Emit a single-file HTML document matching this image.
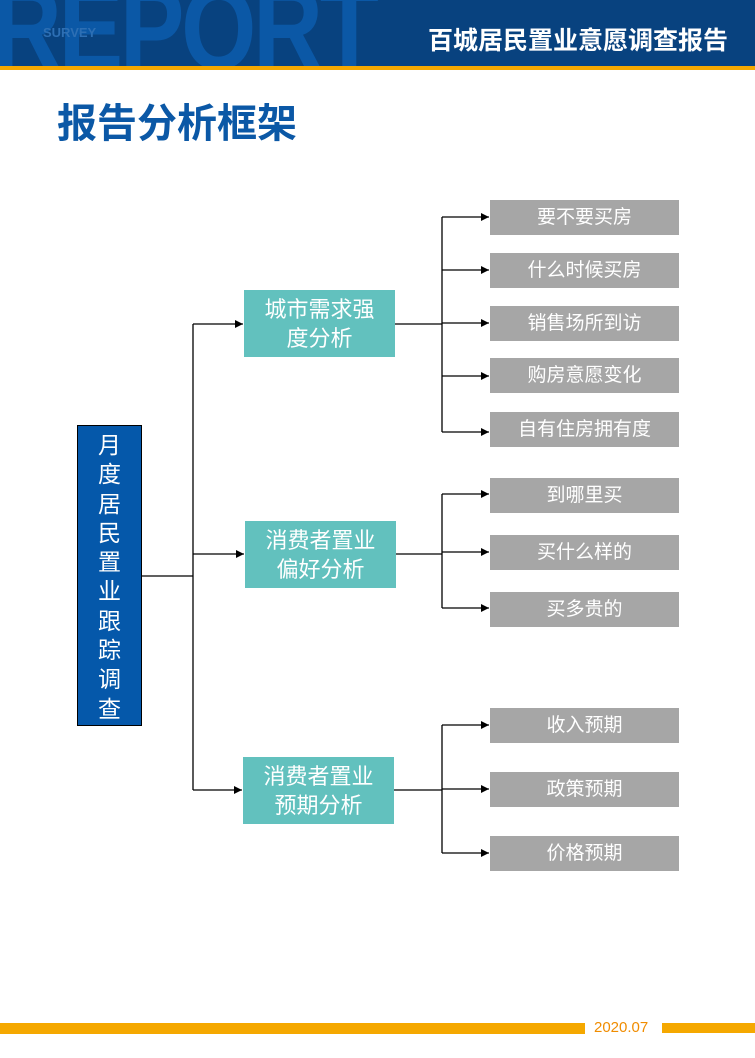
<!DOCTYPE html>
<html><head><meta charset="utf-8"><style>
body{margin:0;width:755px;height:1058px;position:relative;background:#fff;overflow:hidden;font-family:"Liberation Sans","Noto Sans CJK SC",sans-serif}
.a{position:absolute}
.g{position:absolute;left:490px;width:189px;height:35px;background:#a6a6a6;color:#fff;font-size:19px;line-height:35px;text-align:center}
.t{position:absolute;width:151px;height:67px;background:#62c1be;color:#fff;font-size:22px;line-height:29px;text-align:center;display:flex;align-items:center;justify-content:center}
</style></head><body>
<div class="a" style="left:0;top:0;width:755px;height:66px;background:#08427f;overflow:hidden">
<div class="a" style="left:-8px;top:-30px;font-size:118px;font-weight:bold;color:#0b58a6;letter-spacing:-4px;line-height:118px;transform:scaleX(0.82);transform-origin:0 0">REPORT</div>
<div class="a" style="left:43px;top:25px;font-size:13px;font-weight:bold;color:#2d6fb4">SURVEY</div>
<div class="a" style="left:428px;top:21px;font-size:25px;font-weight:bold;color:#fff;white-space:nowrap">百城居民置业意愿调查报告</div>
</div>
<div class="a" style="left:0;top:66px;width:755px;height:4px;background:#f5a800"></div>
<div class="a" style="left:57px;top:91px;font-size:40px;font-weight:bold;color:#0b58a6;white-space:nowrap">报告分析框架</div>

<div class="a" style="left:77px;top:425px;width:65px;height:301px;background:#0558aa;border:1px solid #000;color:#fff;font-size:23px;line-height:29.3px;text-align:center;padding-top:5px;box-sizing:border-box">月<br>度<br>居<br>民<br>置<br>业<br>跟<br>踪<br>调<br>查</div>

<div class="t" style="left:244px;top:290px">城市需求强<br>度分析</div>
<div class="t" style="left:245px;top:521px">消费者置业<br>偏好分析</div>
<div class="t" style="left:243px;top:757px">消费者置业<br>预期分析</div>

<div class="g" style="top:200px">要不要买房</div>
<div class="g" style="top:253px">什么时候买房</div>
<div class="g" style="top:306px">销售场所到访</div>
<div class="g" style="top:358px">购房意愿变化</div>
<div class="g" style="top:412px">自有住房拥有度</div>
<div class="g" style="top:478px">到哪里买</div>
<div class="g" style="top:535px">买什么样的</div>
<div class="g" style="top:592px">买多贵的</div>
<div class="g" style="top:708px">收入预期</div>
<div class="g" style="top:772px">政策预期</div>
<div class="g" style="top:836px">价格预期</div>

<svg class="a" style="left:0;top:0" width="755" height="1058">
<defs><marker id="m" markerWidth="8" markerHeight="8" refX="8" refY="4" orient="auto" markerUnits="userSpaceOnUse"><path d="M0,0L8,4L0,8z" fill="#000"/></marker></defs>
<g stroke="#000" stroke-width="1.3" fill="none">
<path d="M142,576H193M193,324V790"/>
<path d="M193,324H243" marker-end="url(#m)"/>
<path d="M193,554H244" marker-end="url(#m)"/>
<path d="M193,790H242" marker-end="url(#m)"/>
<path d="M395,324H442M442,217V432"/>
<path d="M442,217H489" marker-end="url(#m)"/>
<path d="M442,270H489" marker-end="url(#m)"/>
<path d="M442,323H489" marker-end="url(#m)"/>
<path d="M442,376H489" marker-end="url(#m)"/>
<path d="M442,432H489" marker-end="url(#m)"/>
<path d="M396,554H442M442,494V608"/>
<path d="M442,494H489" marker-end="url(#m)"/>
<path d="M442,552H489" marker-end="url(#m)"/>
<path d="M442,608H489" marker-end="url(#m)"/>
<path d="M394,790H442M442,725V853"/>
<path d="M442,725H489" marker-end="url(#m)"/>
<path d="M442,789H489" marker-end="url(#m)"/>
<path d="M442,853H489" marker-end="url(#m)"/>
</g></svg>

<div class="a" style="left:0;top:1023px;width:585px;height:11px;background:#f5a800"></div>
<div class="a" style="left:662px;top:1023px;width:93px;height:10px;background:#f5a800"></div>
<div class="a" style="left:594px;top:1019px;font-size:15px;color:#f08c00">2020.07</div>
</body></html>
